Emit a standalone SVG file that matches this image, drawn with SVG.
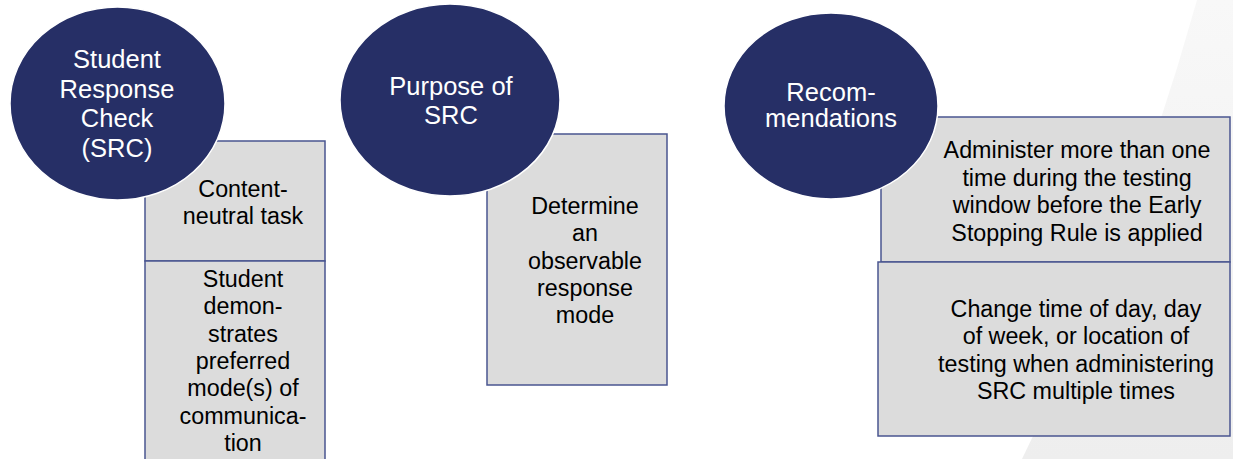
<svg xmlns="http://www.w3.org/2000/svg" width="1233" height="459" viewBox="0 0 1233 459">
<defs>
<linearGradient id="bgGrad" x1="0" y1="0" x2="0" y2="1">
<stop offset="0" stop-color="#f8f8f8"/>
<stop offset="1" stop-color="#eeeeee"/>
</linearGradient>
<style>
.box{fill:#dcdcdc;stroke:#4a5590;stroke-width:1.5}
.circ{fill:#262f66;stroke:#ffffff;stroke-width:1.5}
.ct{font-family:"Liberation Sans",Arial,sans-serif;font-size:25.5px;fill:#ffffff;text-anchor:middle}
.bt{font-family:"Liberation Sans",Arial,sans-serif;font-size:23.3px;fill:#000000;text-anchor:middle}
</style>
</defs>
<rect width="1233" height="459" fill="#ffffff"/>
<path d="M1197,0 Q1130,240 1022,459 L1233,459 L1233,0 Z" fill="url(#bgGrad)"/>

<g id="box-content-neutral">
<rect class="box" x="145" y="141" width="180" height="120"/>
<text class="bt" x="243" y="197">Content-</text>
<text class="bt" x="243" y="223.5">neutral task</text>
</g>
<g id="box-preferred-mode">
<rect class="box" x="145" y="261" width="180" height="210"/>
<text class="bt" x="243" y="287">Student</text>
<text class="bt" x="243" y="314.3">demon-</text>
<text class="bt" x="243" y="341.6">strates</text>
<text class="bt" x="243" y="368.9">preferred</text>
<text class="bt" x="243" y="396.2">mode(s) of</text>
<text class="bt" x="243" y="423.5">communica-</text>
<text class="bt" x="243" y="450.8">tion</text>
</g>
<g id="box-observable">
<rect class="box" x="487" y="134" width="180" height="251"/>
<text class="bt" x="585" y="214">Determine</text>
<text class="bt" x="585" y="241.3">an</text>
<text class="bt" x="585" y="268.6">observable</text>
<text class="bt" x="585" y="295.9">response</text>
<text class="bt" x="585" y="323.2">mode</text>
</g>
<g id="box-administer">
<rect class="box" x="881" y="117" width="349" height="145"/>
<text class="bt" x="1077" y="158">Administer more than one</text>
<text class="bt" x="1077" y="185.6">time during the testing</text>
<text class="bt" x="1077" y="213.2">window before the Early</text>
<text class="bt" x="1077" y="240.8">Stopping Rule is applied</text>
</g>
<g id="box-change">
<rect class="box" x="878" y="262" width="352" height="174"/>
<text class="bt" x="1076" y="316.7">Change time of day, day</text>
<text class="bt" x="1076" y="344">of week, or location of</text>
<text class="bt" x="1076" y="371.5">testing when administering</text>
<text class="bt" x="1076" y="398.5">SRC multiple times</text>
</g>

<g id="circle-src">
<ellipse class="circ" cx="117.5" cy="103.5" rx="107.5" ry="96.5"/>
<text class="ct" x="117" y="68">Student</text>
<text class="ct" x="117" y="97.5">Response</text>
<text class="ct" x="117" y="127">Check</text>
<text class="ct" x="117" y="156.5">(SRC)</text>
</g>
<g id="circle-purpose">
<ellipse class="circ" cx="450" cy="100" rx="110" ry="96"/>
<text class="ct" x="451" y="95">Purpose of</text>
<text class="ct" x="451" y="124">SRC</text>
</g>
<g id="circle-recommendations">
<ellipse class="circ" cx="831" cy="106" rx="107" ry="93"/>
<text class="ct" x="831" y="100.5">Recom-</text>
<text class="ct" x="831" y="127">mendations</text>
</g>
<g id="connectors"></g>
</svg>
